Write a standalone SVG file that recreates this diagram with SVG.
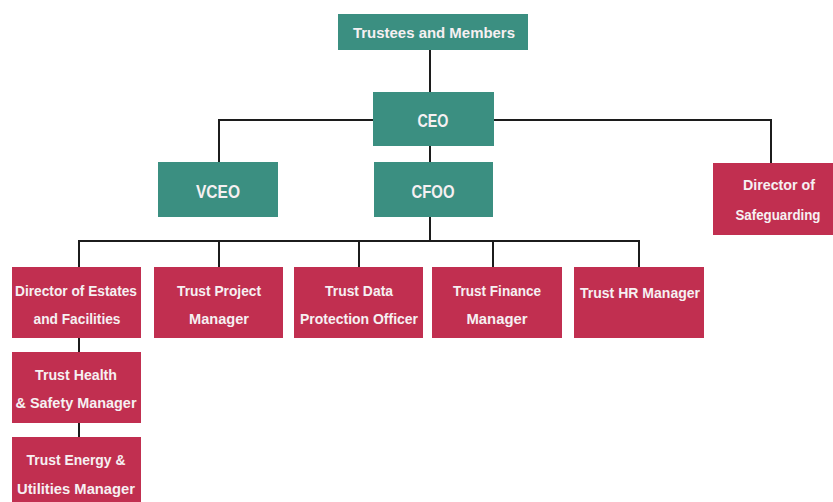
<svg xmlns="http://www.w3.org/2000/svg" width="833" height="502" viewBox="0 0 833 502">
  <style>
    .teal { fill: #3b8f81; }
    .red { fill: #c12f50; }
    .lbl { font-family: "Liberation Sans", Arial, sans-serif; font-weight: bold; font-size: 15px; fill: #f6f0f2; text-anchor: middle; dominant-baseline: central; }
    .big { font-size: 19px; }
    .wire { fill: none; stroke: #1c1c1c; stroke-width: 2; }
  </style>
  <rect width="833" height="502" fill="#ffffff"/>

  <g id="connectors">
    <path class="wire" d="M430 50 V92"/>
    <path class="wire" d="M219 163 V120 H771 V163"/>
    <path class="wire" d="M430 146 V162"/>
    <path class="wire" d="M430 217 V241"/>
    <path class="wire" d="M79 267 V241 H639 V267"/>
    <path class="wire" d="M219 241 V267"/>
    <path class="wire" d="M359 241 V267"/>
    <path class="wire" d="M493 241 V267"/>
    <path class="wire" d="M79 338 V352"/>
    <path class="wire" d="M79 423 V437"/>
  </g>

  <g id="trustees">
    <rect class="teal" x="338" y="14" width="190" height="36"/>
    <text class="lbl" x="434" y="32" textLength="162" lengthAdjust="spacingAndGlyphs">Trustees and Members</text>
  </g>
  <g id="ceo">
    <rect class="teal" x="373" y="92" width="121" height="54"/>
    <text class="lbl big" x="433" y="120" textLength="31" lengthAdjust="spacingAndGlyphs">CEO</text>
  </g>
  <g id="vceo">
    <rect class="teal" x="158" y="162" width="120" height="55"/>
    <text class="lbl big" x="218" y="191" textLength="44" lengthAdjust="spacingAndGlyphs">VCEO</text>
  </g>
  <g id="cfoo">
    <rect class="teal" x="374" y="162" width="119" height="55"/>
    <text class="lbl big" x="433" y="191" textLength="43" lengthAdjust="spacingAndGlyphs">CFOO</text>
  </g>
  <g id="safeguarding">
    <rect class="red" x="713" y="163" width="120" height="72"/>
    <text class="lbl" x="779" y="184" textLength="72" lengthAdjust="spacingAndGlyphs">Director of</text>
    <text class="lbl" x="778" y="214" textLength="85" lengthAdjust="spacingAndGlyphs">Safeguarding</text>
  </g>

  <g id="estates">
    <rect class="red" x="12" y="267" width="129" height="71"/>
    <text class="lbl" x="76" y="290" textLength="122" lengthAdjust="spacingAndGlyphs">Director of Estates</text>
    <text class="lbl" x="77" y="318" textLength="87" lengthAdjust="spacingAndGlyphs">and Facilities</text>
  </g>
  <g id="project">
    <rect class="red" x="154" y="267" width="129" height="71"/>
    <text class="lbl" x="219" y="290" textLength="84" lengthAdjust="spacingAndGlyphs">Trust Project</text>
    <text class="lbl" x="219" y="318" textLength="60" lengthAdjust="spacingAndGlyphs">Manager</text>
  </g>
  <g id="data-protection">
    <rect class="red" x="294" y="267" width="129" height="71"/>
    <text class="lbl" x="359" y="290" textLength="68" lengthAdjust="spacingAndGlyphs">Trust Data</text>
    <text class="lbl" x="359" y="318" textLength="118" lengthAdjust="spacingAndGlyphs">Protection Officer</text>
  </g>
  <g id="finance">
    <rect class="red" x="432" y="267" width="130" height="71"/>
    <text class="lbl" x="497" y="290" textLength="88" lengthAdjust="spacingAndGlyphs">Trust Finance</text>
    <text class="lbl" x="497" y="318" textLength="61" lengthAdjust="spacingAndGlyphs">Manager</text>
  </g>
  <g id="hr">
    <rect class="red" x="574" y="267" width="130" height="71"/>
    <text class="lbl" x="640" y="292" textLength="120" lengthAdjust="spacingAndGlyphs">Trust HR Manager</text>
  </g>

  <g id="health-safety">
    <rect class="red" x="12" y="352" width="129" height="71"/>
    <text class="lbl" x="76" y="374" textLength="82" lengthAdjust="spacingAndGlyphs">Trust Health</text>
    <text class="lbl" x="76" y="402" textLength="121" lengthAdjust="spacingAndGlyphs">&amp; Safety Manager</text>
  </g>
  <g id="energy">
    <rect class="red" x="12" y="437" width="129" height="70"/>
    <text class="lbl" x="76" y="459" textLength="99" lengthAdjust="spacingAndGlyphs">Trust Energy &amp;</text>
    <text class="lbl" x="76" y="488" textLength="118" lengthAdjust="spacingAndGlyphs">Utilities Manager</text>
  </g>
</svg>
